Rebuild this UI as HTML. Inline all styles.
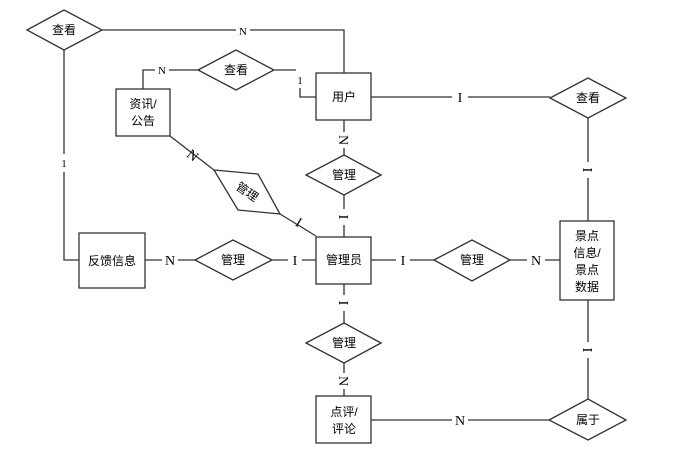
<!DOCTYPE html>
<html><head><meta charset="utf-8"><style>
html,body{margin:0;padding:0;background:#fff;width:679px;height:453px;overflow:hidden}
text{font-family:"Liberation Sans","Noto Sans CJK SC",sans-serif;font-size:12px;fill:#000}
.l{font-family:"Liberation Serif",serif;font-size:14px}
.s{font-family:"Liberation Serif",serif;font-size:11px}
</style></head><body>
<svg width="679" height="453" viewBox="0 0 679 453" xmlns="http://www.w3.org/2000/svg">
<g fill="none" stroke="#333" stroke-width="1.3">
<!-- lines -->
<polyline points="102,30 344,30 344,73"/>
<polyline points="274,70 296,70"/>
<polyline points="300,88 300,97 316,97"/>
<polyline points="198,70 143,70 143,89"/>
<line x1="170" y1="136" x2="214" y2="170"/>
<line x1="280" y1="214" x2="316" y2="236"/>
<line x1="344" y1="120" x2="344" y2="155"/>
<line x1="344" y1="195" x2="344" y2="237"/>
<polyline points="64,50 64,260 79,260"/>
<line x1="145" y1="260" x2="195" y2="260"/>
<line x1="272" y1="260" x2="316" y2="260"/>
<line x1="371" y1="260" x2="434" y2="260"/>
<line x1="510" y1="260" x2="560" y2="260"/>
<line x1="371" y1="97" x2="550" y2="97"/>
<line x1="588" y1="118" x2="588" y2="221"/>
<line x1="344" y1="284" x2="344" y2="323"/>
<line x1="344" y1="363" x2="344" y2="396"/>
<line x1="371" y1="420" x2="549" y2="420"/>
<line x1="588" y1="300" x2="588" y2="399"/>
</g>
<!-- label backgrounds -->
<g fill="#fff">
<rect x="236" y="22" width="14" height="16"/>
<rect x="155" y="63" width="14" height="14"/>
<rect x="294" y="72" width="12" height="16"/>
<rect x="56" y="154" width="16" height="18"/>
<rect x="162" y="252" width="16" height="16"/>
<rect x="288" y="252" width="14" height="16"/>
<rect x="396" y="252" width="14" height="16"/>
<rect x="527" y="252" width="18" height="16"/>
<rect x="452" y="89" width="16" height="16"/>
<rect x="452" y="412" width="16" height="16"/>
<rect x="336" y="132" width="16" height="16"/>
<rect x="336" y="209" width="16" height="16"/>
<rect x="336" y="295" width="16" height="16"/>
<rect x="336" y="373" width="16" height="16"/>
<rect x="580" y="162" width="16" height="16"/>
<rect x="580" y="342" width="16" height="16"/>
</g>
<!-- shapes -->
<g fill="#fff" stroke="#333" stroke-width="1.3">
<polygon points="27,30 64,10 102,30 64,50"/>
<polygon points="198,70 236,50 274,70 236,90"/>
<polygon points="214,170 258,174 280,214 238,210"/>
<polygon points="306,175 344,155 381,175 344,195"/>
<polygon points="195,260 233,240 272,260 233,280"/>
<polygon points="434,260 472,240 510,260 472,281"/>
<polygon points="550,98 588,78 626,98 588,118"/>
<polygon points="306,343 344,323 381,343 344,363"/>
<polygon points="549,420 588,399 626,420 588,440"/>
<rect x="316" y="73" width="55" height="47"/>
<rect x="116" y="89" width="54" height="47"/>
<rect x="316" y="237" width="55" height="47"/>
<rect x="79" y="233" width="66" height="55"/>
<rect x="560" y="221" width="54" height="79"/>
<rect x="316" y="396" width="55" height="47"/>
</g>
<!-- entity/relation text -->
<g text-anchor="middle">
<text x="64" y="34">查看</text>
<text x="236" y="74">查看</text>
<text x="344" y="101">用户</text>
<text x="143" y="108">资讯/</text>
<text x="143" y="125">公告</text>
<text x="247" y="196" transform="rotate(35 247 192)">管理</text>
<text x="344" y="179">管理</text>
<text x="112" y="265">反馈信息</text>
<text x="233" y="264">管理</text>
<text x="344" y="264">管理员</text>
<text x="472" y="264">管理</text>
<text x="588" y="102">查看</text>
<text x="587" y="240">景点</text>
<text x="587" y="257">信息/</text>
<text x="587" y="274">景点</text>
<text x="587" y="291">数据</text>
<text x="344" y="347">管理</text>
<text x="344" y="416">点评/</text>
<text x="344" y="433">评论</text>
<text x="588" y="424">属于</text>
</g>
<!-- cardinality labels -->
<g text-anchor="middle">
<text class="s" x="243" y="35">N</text>
<text class="s" x="162" y="74">N</text>
<text class="s" x="300" y="84">1</text>
<text class="s" x="64" y="167">1</text>
<text class="l" x="193" y="160" transform="rotate(38 193 155)">N</text>
<text class="l" x="299" y="227" transform="rotate(30 299 222)">I</text>
<text class="l" x="344" y="145" transform="rotate(90 344 140)">N</text>
<text class="l" x="344" y="222" transform="rotate(90 344 217)">I</text>
<text class="l" x="170" y="265">N</text>
<text class="l" x="295" y="265">I</text>
<text class="l" x="403" y="265">I</text>
<text class="l" x="536" y="265">N</text>
<text class="l" x="460" y="102">I</text>
<text class="l" x="588" y="175" transform="rotate(90 588 170)">I</text>
<text class="l" x="344" y="308" transform="rotate(90 344 303)">I</text>
<text class="l" x="344" y="386" transform="rotate(90 344 381)">N</text>
<text class="l" x="460" y="425">N</text>
<text class="l" x="588" y="355" transform="rotate(90 588 350)">I</text>
</g>
</svg>
</body></html>
